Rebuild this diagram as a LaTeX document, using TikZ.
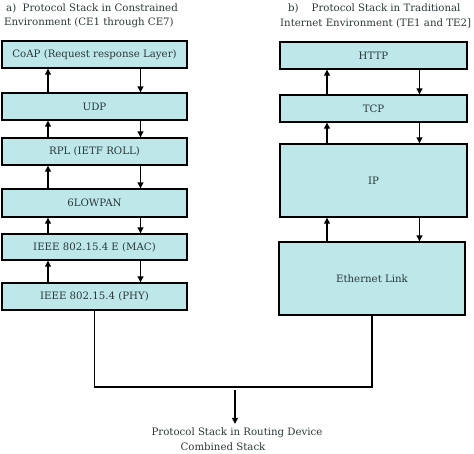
\documentclass[tikz,border=0pt]{standalone}
\usepackage{fontspec}
\setmainfont{DejaVu Serif}
\usetikzlibrary{arrows.meta}
\definecolor{layerfill}{HTML}{BDE7E9}
\definecolor{inktext}{HTML}{2B3838}

\begin{document}
\begin{tikzpicture}[
            x=1pt, y=-1pt,
            font=\fontsize{10.2}{12}\selectfont,
            layer/.style={draw, line width=1.4pt, fill=layerfill, text=inktext, minimum width=185pt, minimum height=27pt, inner sep=0pt},
            flow/.style={line width=1.2pt, -{Triangle[length=6pt,width=6pt]}},
            caption/.style={text=inktext, inner sep=0pt},
            ]
            \useasboundingbox (0,0) rectangle (474,454);
            % constrained stack
            \node[caption, anchor=west] (capA1) at (6,8) {a)\ \ Protocol Stack in Constrained};
            \node[caption, anchor=west] (capA2) at (4,23) {Environment (CE1 through CE7)};
            \node[layer] (coap) at (94.5,54.5) {CoAP (Request response Layer)};
            \node[layer] (udp) at (94.5,106.5) {UDP};
            \node[layer] (rpl) at (94.5,151.5) {RPL (IETF ROLL)};
            \node[layer, minimum height=28pt] (lowpan) at (94.5,203) {6LOWPAN};
            \node[layer, minimum height=26pt] (mac) at (94.5,247) {IEEE 802.15.4 E (MAC)};
            \node[layer] (phy) at (94.5,296.5) {IEEE 802.15.4 (PHY)};
            % traditional stack
            \node[caption, anchor=west] (capB1) at (288,8) {b)\ \ \ \ Protocol Stack in Traditional};
            \node[caption, anchor=west] (capB2) at (280,23) {Internet Environment (TE1 and TE2]};
            \node[layer, minimum width=187pt] (http) at (373.5,55.5) {HTTP};
            \node[layer, minimum width=187pt] (tcp) at (373.5,108.5) {TCP};
            \node[layer, minimum width=187pt, minimum height=73pt] (ip) at (373.5,180.5) {IP};
            \node[layer, minimum width=186pt, minimum height=73pt] (eth) at (372,278.5) {Ethernet Link};
            \foreach \lo/\hi in {udp/coap, rpl/udp, lowpan/rpl, mac/lowpan, phy/mac, tcp/http, ip/tcp, eth/ip}{
                \draw[flow] ([xshift=-46.5pt]\hi.south |- \lo.north) -- ([xshift=-46.5pt]\hi.south);
                \draw[flow] ([xshift=46pt]\hi.south) -- ([xshift=46pt]\hi.south |- \lo.north);
            }
            % merge into the routing device
            \coordinate (merge) at (235,387);
            \node[caption] (routing) at (237,433) {Protocol Stack in Routing Device};
            \node[caption] (combined) at (223,447) {Combined Stack};
            \draw[line width=1.2pt] (phy.south) |- (merge) -| (eth.south);
            \draw[flow] ([yshift=-3pt]merge) -- ([yshift=4pt]routing.north -| merge);
\end{tikzpicture}
\end{document}
